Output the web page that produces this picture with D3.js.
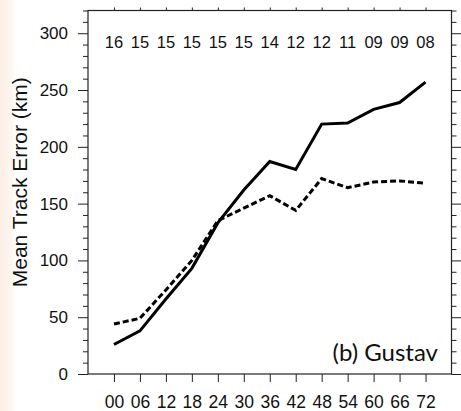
<!DOCTYPE html>
<html>
<head>
<meta charset="utf-8">
<script src="https://cdn.jsdelivr.net/npm/d3@7"></script>
<style>
  html, body { margin: 0; padding: 0; background: #fff; }
  svg { display: block; }
</style>
</head>
<body>
<svg id="chart" width="461" height="411"></svg>
<script>
// Forecast lead times (h) and their tick labels
const leadTimes = [0, 6, 12, 18, 24, 30, 36, 42, 48, 54, 60, 66, 72];
const leadLabels = ["00", "06", "12", "18", "24", "30", "36", "42", "48", "54", "60", "66", "72"];
// Number of cases verified at each lead time
const caseCounts = ["16", "15", "15", "15", "15", "15", "14", "12", "12", "11", "09", "09", "08"];
// Mean track error (km) for the two experiments
const solidErrors = [26, 38, 66, 93, 133, 162, 187, 180, 220, 221, 233, 239, 257];
const dashedErrors = [44, 49, 74, 100, 135, 146, 157, 144, 172, 164, 169, 170, 168];
const yMajorTicks = [0, 50, 100, 150, 200, 250, 300];

const svg = d3.select("#chart");
const W = 461, H = 411;
const plot = { left: 88, right: 451.5, top: 10.5, bottom: 374 };

// faint warm strip on the left edge
const defs = svg.append("defs");
const grad = defs.append("linearGradient").attr("id", "edge").attr("x1", 0).attr("x2", 1).attr("y1", 0).attr("y2", 0);
grad.append("stop").attr("offset", "0%").attr("stop-color", "#fbeee4");
grad.append("stop").attr("offset", "70%").attr("stop-color", "#fdf6f0");
grad.append("stop").attr("offset", "100%").attr("stop-color", "#ffffff");
svg.append("rect").attr("x", 0).attr("y", 0).attr("width", 16).attr("height", H).attr("fill", "url(#edge)");

const x = d3.scaleLinear().domain([-6, 78]).range([plot.left, plot.right]);
const y = d3.scaleLinear().domain([0, 320]).range([plot.bottom, plot.top]);

const yMinor = d3.range(0, 321, 10).filter(v => v % 50 !== 0);
const axisColor = "#222";
const font = "'Liberation Sans', Arimo, Helvetica, Arial, sans-serif";

// left axis: major + minor ticks pointing outward
const leftAxis = d3.axisLeft(y).tickValues(yMajorTicks).tickSize(10).tickPadding(10).tickFormat(d3.format("d"));
const gL = svg.append("g").attr("transform", `translate(${plot.left},0)`).call(leftAxis);
svg.append("g").attr("transform", `translate(${plot.left},0)`)
  .call(d3.axisLeft(y).tickValues(yMinor).tickSize(5).tickFormat(""));

// right axis mirror ticks
svg.append("g").attr("transform", `translate(${plot.right},0)`)
  .call(d3.axisRight(y).tickValues(yMajorTicks).tickSize(10).tickFormat(""));
svg.append("g").attr("transform", `translate(${plot.right},0)`)
  .call(d3.axisRight(y).tickValues(yMinor).tickSize(5).tickFormat(""));

// bottom axis
const bottomAxis = d3.axisBottom(x).tickValues(leadTimes).tickSize(8).tickPadding(14)
  .tickFormat((d, i) => leadLabels[i]);
const gB = svg.append("g").attr("transform", `translate(0,${plot.bottom})`).call(bottomAxis);

// top axis: short ticks
svg.append("g").attr("transform", `translate(0,${plot.top})`)
  .call(d3.axisTop(x).tickValues(leadTimes).tickSize(3).tickFormat(""));

svg.selectAll(".domain").remove();
svg.selectAll(".tick line").attr("stroke", axisColor).attr("stroke-width", 1);
svg.selectAll("g").attr("font-family", font);
svg.selectAll(".tick text").attr("fill", "#111").style("font-family", font).style("font-size", "17px");
gB.selectAll(".tick text").style("font-size", "17.5px");

// frame
svg.append("rect")
  .attr("x", plot.left).attr("y", plot.top)
  .attr("width", plot.right - plot.left).attr("height", plot.bottom - plot.top)
  .attr("fill", "none").attr("stroke", axisColor).attr("stroke-width", 1.2);

// case counts along the top
svg.append("g").selectAll("text").data(caseCounts).join("text")
  .attr("x", (d, i) => x(leadTimes[i]))
  .attr("y", 47.5)
  .attr("text-anchor", "middle")
  .style("font-family", font).style("font-size", "16.5px").attr("fill", "#111")
  .text(d => d);

// error curves
const line = d3.line().x(d => x(d[0])).y(d => y(d[1]));
svg.append("path")
  .datum(leadTimes.map((t, i) => [t, dashedErrors[i]]))
  .attr("d", line).attr("fill", "none").attr("stroke", "#000")
  .attr("stroke-width", 3).attr("stroke-dasharray", "6,3");
svg.append("path")
  .datum(leadTimes.map((t, i) => [t, solidErrors[i]]))
  .attr("d", line).attr("fill", "none").attr("stroke", "#000")
  .attr("stroke-width", 3).attr("stroke-linejoin", "miter");

// y-axis title
svg.append("text")
  .attr("transform", `translate(27,${(plot.top + plot.bottom) / 2 - 10}) rotate(-90)`)
  .attr("text-anchor", "middle")
  .style("font-family", font).style("font-size", "21px").attr("fill", "#111")
  .text("Mean Track Error (km)");

// panel label
svg.append("text")
  .attr("x", 438).attr("y", 361)
  .attr("text-anchor", "end")
  .style("font-family", "Lato, 'Open Sans', sans-serif").style("font-size", "24px").attr("fill", "#111")
  .text("(b) Gustav");
</script>
</body>
</html>
